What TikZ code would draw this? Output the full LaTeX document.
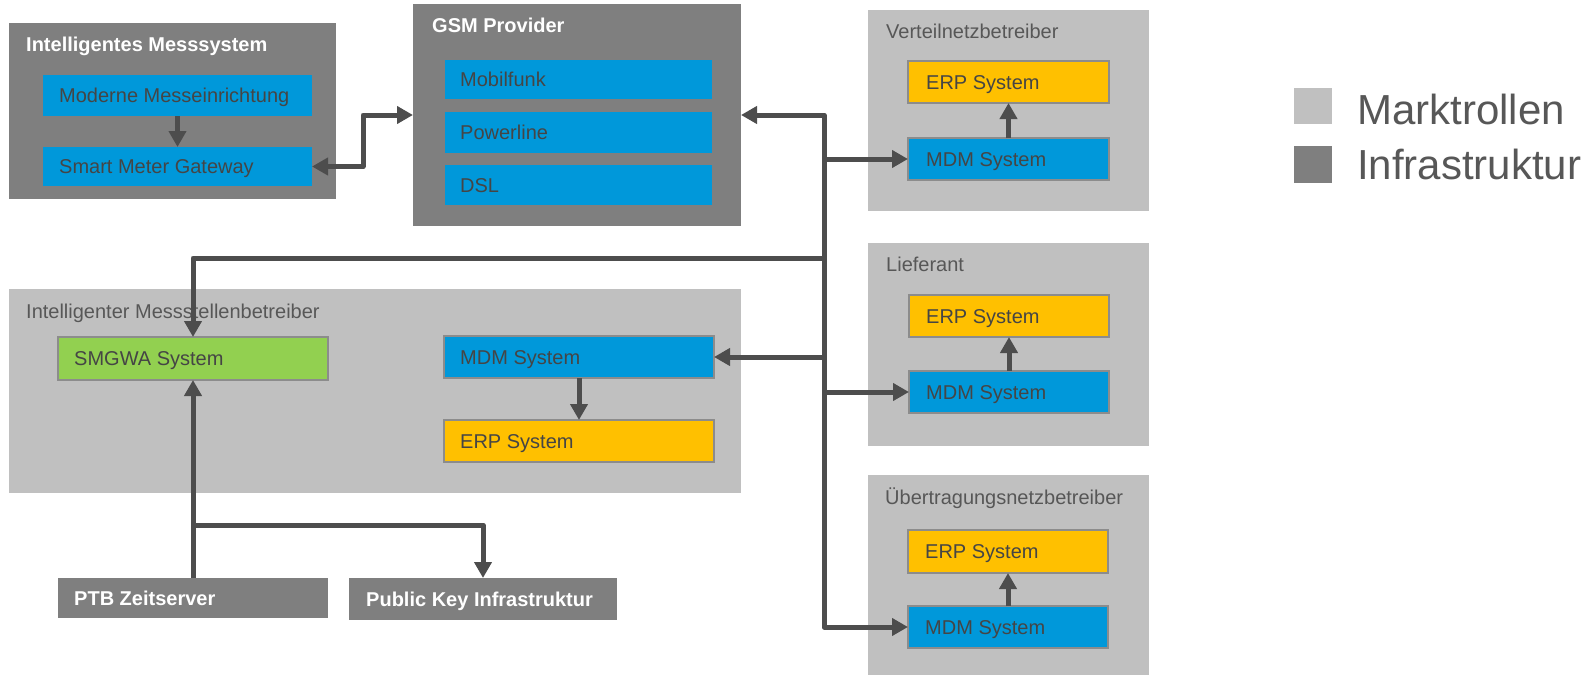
\documentclass[tikz,border=0pt]{standalone}
\usepackage{fontspec}
\setmainfont{Liberation Sans}
\usetikzlibrary{arrows.meta,fit,calc}
\definecolor{infra}{HTML}{7F7F7F}
\definecolor{market}{HTML}{C0C0C0}
\definecolor{sysblue}{HTML}{0098DA}
\definecolor{erpyellow}{HTML}{FFC000}
\definecolor{smgreen}{HTML}{92D050}
\definecolor{wire}{HTML}{4D4D4D}
\definecolor{boxtext}{HTML}{454545}
\definecolor{roletext}{HTML}{575757}
\definecolor{edge}{HTML}{8C8C8C}

% area from corner (x1,y1) to (x2,y2), pixel-like units, y downwards
\newcommand\areabox[6]{\node[#6, fit={(#2,#3) (#4,#5)}] (#1) {};}

\begin{document}
\begin{tikzpicture}[x=1pt,y=-1pt,
  area/.style={inner sep=0pt, outer sep=0pt},
  infraArea/.style={area, fill=infra},
  marketArea/.style={area, fill=market},
  unit/.style={area, draw=edge, line width=1.1pt},
  blueUnit/.style={unit, fill=sysblue},
  erpUnit/.style={unit, fill=erpyellow},
  greenUnit/.style={unit, fill=smgreen},
  infraUnit/.style={area, fill=infra},
  boxlabel/.style={anchor=base west, inner sep=0pt, font=\fontsize{20}{24}\selectfont, text=boxtext},
  headlabel/.style={anchor=base west, inner sep=0pt, font=\fontsize{20}{24}\selectfont\bfseries, text=white},
  rolelabel/.style={anchor=base west, inner sep=0pt, font=\fontsize{20}{24}\selectfont, text=roletext},
  legendlabel/.style={anchor=base west, inner sep=0pt, font=\fontsize{42}{48}\selectfont, text=roletext},
  tip/.tip={Triangle[length=16pt,width=17pt]},
  link/.style={draw=wire, line width=5pt, line join=round, -tip},
  twoway/.style={link, tip-tip},
]
\useasboundingbox (0,0) rectangle (1596,677);

% ---------- Intelligentes Messsystem ----------
\areabox{ims}{9}{23}{336}{199}{infraArea}
\node[headlabel] (imsT) at (26,52) {Intelligentes Messsystem};
\areabox{mme}{43}{75}{312}{116}{area, fill=sysblue}
\node[boxlabel] (mmeT) at ([xshift=16pt,yshift=-7pt]mme.west) {Moderne Messeinrichtung};
\areabox{smg}{43}{147}{312}{186}{area, fill=sysblue}
\node[boxlabel] (smgT) at ([xshift=16pt,yshift=-7pt]smg.west) {Smart Meter Gateway};

% ---------- GSM Provider ----------
\areabox{gsm}{413}{4}{741}{226}{infraArea}
\node[headlabel] (gsmT) at (432,33) {GSM Provider};
\areabox{mob}{445}{60}{712}{99}{area, fill=sysblue}
\node[boxlabel] (mobT) at ([xshift=15pt,yshift=-7pt]mob.west) {Mobilfunk};
\areabox{pow}{445}{112}{712}{153}{area, fill=sysblue}
\node[boxlabel] (powT) at ([xshift=15pt,yshift=-7pt]pow.west) {Powerline};
\areabox{dsl}{445}{165}{712}{205}{area, fill=sysblue}
\node[boxlabel] (dslT) at ([xshift=15pt,yshift=-7pt]dsl.west) {DSL};

% ---------- Verteilnetzbetreiber ----------
\areabox{vnb}{868}{10}{1149}{211}{marketArea}
\node[rolelabel] (vnbT) at (886,39) {Verteilnetzbetreiber};
\areabox{vnbERP}{908}{61}{1109}{103}{erpUnit}
\node[boxlabel] (vnbERPT) at ([xshift=18pt,yshift=-7pt]vnbERP.west) {ERP System};
\areabox{vnbMDM}{908}{138}{1109}{180}{blueUnit}
\node[boxlabel] (vnbMDMT) at ([xshift=18pt,yshift=-7pt]vnbMDM.west) {MDM System};

% ---------- Lieferant ----------
\areabox{lief}{868}{243}{1149}{446}{marketArea}
\node[rolelabel] (liefT) at (886,271) {Lieferant};
\areabox{liefERP}{909}{295}{1109}{337}{erpUnit}
\node[boxlabel] (liefERPT) at ([xshift=17pt,yshift=-7pt]liefERP.west) {ERP System};
\areabox{liefMDM}{909}{371}{1109}{413}{blueUnit}
\node[boxlabel] (liefMDMT) at ([xshift=17pt,yshift=-7pt]liefMDM.west) {MDM System};

% ---------- Übertragungsnetzbetreiber ----------
\areabox{unb}{868}{475}{1149}{675}{marketArea}
\node[rolelabel] (unbT) at (885,504) {Übertragungsnetzbetreiber};
\areabox{unbERP}{908}{530}{1108}{573}{erpUnit}
\node[boxlabel] (unbERPT) at ([xshift=17pt,yshift=-7pt]unbERP.west) {ERP System};
\areabox{unbMDM}{908}{606}{1108}{648}{blueUnit}
\node[boxlabel] (unbMDMT) at ([xshift=17pt,yshift=-7pt]unbMDM.west) {MDM System};

% ---------- Intelligenter Messstellenbetreiber ----------
\areabox{imb}{9}{289}{741}{493}{marketArea}
\node[rolelabel] (imbT) at (26,318) {Intelligenter Messstellenbetreiber};
\areabox{smgwa}{58}{337}{328}{380}{greenUnit}
\node[boxlabel] (smgwaT) at ([xshift=16pt,yshift=-7pt]smgwa.west) {SMGWA System};
\areabox{imbMDM}{444}{336}{714}{378}{blueUnit}
\node[boxlabel] (imbMDMT) at ([xshift=16pt,yshift=-7pt]imbMDM.west) {MDM System};
\areabox{imbERP}{444}{420}{714}{462}{erpUnit}
\node[boxlabel] (imbERPT) at ([xshift=16pt,yshift=-7pt]imbERP.west) {ERP System};

% ---------- PTB / PKI ----------
\areabox{ptb}{58}{578}{328}{618}{infraUnit}
\node[headlabel] (ptbT) at ([xshift=16pt,yshift=-7pt]ptb.west) {PTB Zeitserver};
\areabox{pki}{349}{578}{617}{620}{infraUnit}
\node[headlabel] (pkiT) at ([xshift=17pt,yshift=-7pt]pki.west) {Public Key Infrastruktur};

% ---------- legend ----------
\areabox{legM}{1294}{88}{1332}{124}{marketArea}
\node[legendlabel] (legMT) at (1357,124) {Marktrollen};
\areabox{legI}{1294}{146}{1332}{183}{infraArea}
\node[legendlabel] (legIT) at (1357,179) {Infrastruktur};

% ---------- connectors ----------
\coordinate (bus) at (824,400);
\coordinate (smgBendX) at (363,0);
\coordinate (smTap) at (824,258);
\coordinate (pkiRow) at (0,525);

\draw[link] (mme.south) -- (smg.north);
\draw[twoway] (smg.east) -- (smg.east -| smgBendX) |- (gsm.west);

\draw[twoway] (gsm.east) -| (bus) |- (unbMDM.west);
\draw[link] (vnbMDM.west -| bus) -- (vnbMDM.west);
\draw[link] (liefMDM.west -| bus) -- (liefMDM.west);
\draw[link] (imbMDM.east -| bus) -- (imbMDM.east);
\draw[link] (smTap) -| (smgwa.north);

\draw[link] (imbMDM.south) -- (imbERP.north);
\draw[link] (vnbMDM.north) -- (vnbERP.south);
\draw[link] (liefMDM.north) -- (liefERP.south);
\draw[link] (unbMDM.north) -- (unbERP.south);

\draw[link] (ptb.north) -- (smgwa.south);
\draw[link] (ptb.north |- pkiRow) -| (pki.north);
\end{tikzpicture}
\end{document}
